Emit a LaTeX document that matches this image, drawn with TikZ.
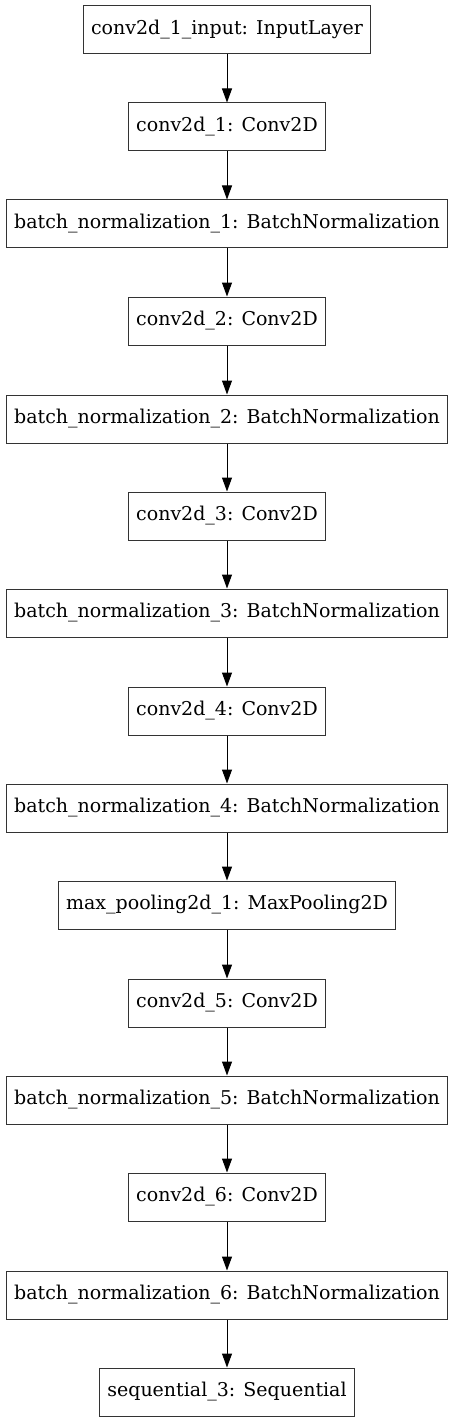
\documentclass[tikz,border=0pt]{standalone}
\usepackage{fontspec}
\setmainfont{DejaVu Serif}
\usetikzlibrary{arrows.meta}

\begin{document}
\begin{tikzpicture}[x=1pt,y=-1pt,>={Triangle[width=10pt,length=14pt]},
    every node/.style={font=\fontsize{19}{22}\selectfont},
    layer/.style={draw=black!80,line width=1pt,minimum height=48pt,inner xsep=8pt}]
                \useasboundingbox (0,0) rectangle (453,1423);
                \node[layer] (in) at (227,29.5) {conv2d\_1\_input: InputLayer};
                \node[layer] (c1) at (227,127) {conv2d\_1: Conv2D};
                \node[layer] (b1) at (227,224) {batch\_normalization\_1: BatchNormalization};
                \node[layer] (c2) at (227,321) {conv2d\_2: Conv2D};
                \node[layer] (b2) at (227,419) {batch\_normalization\_2: BatchNormalization};
                \node[layer] (c3) at (227,516) {conv2d\_3: Conv2D};
                \node[layer] (b3) at (227,613) {batch\_normalization\_3: BatchNormalization};
                \node[layer] (c4) at (227,711) {conv2d\_4: Conv2D};
                \node[layer] (b4) at (227,808) {batch\_normalization\_4: BatchNormalization};
                \node[layer] (mp) at (227,905) {max\_pooling2d\_1: MaxPooling2D};
                \node[layer] (c5) at (227,1003) {conv2d\_5: Conv2D};
                \node[layer] (b5) at (227,1100) {batch\_normalization\_5: BatchNormalization};
                \node[layer] (c6) at (227,1197) {conv2d\_6: Conv2D};
                \node[layer] (b6) at (227,1295) {batch\_normalization\_6: BatchNormalization};
                \node[layer] (sq) at (227,1392) {sequential\_3: Sequential};

                \draw[->,line width=1pt] (in) -- (c1);
                \draw[->,line width=1pt] (c1) -- (b1);
                \draw[->,line width=1pt] (b1) -- (c2);
                \draw[->,line width=1pt] (c2) -- (b2);
                \draw[->,line width=1pt] (b2) -- (c3);
                \draw[->,line width=1pt] (c3) -- (b3);
                \draw[->,line width=1pt] (b3) -- (c4);
                \draw[->,line width=1pt] (c4) -- (b4);
                \draw[->,line width=1pt] (b4) -- (mp);
                \draw[->,line width=1pt] (mp) -- (c5);
                \draw[->,line width=1pt] (c5) -- (b5);
                \draw[->,line width=1pt] (b5) -- (c6);
                \draw[->,line width=1pt] (c6) -- (b6);
                \draw[->,line width=1pt] (b6) -- (sq);
\end{tikzpicture}
\end{document}
